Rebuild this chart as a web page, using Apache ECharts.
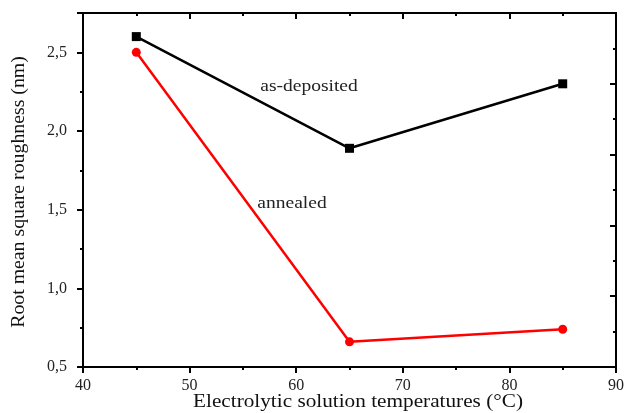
<!DOCTYPE html>
<html>
<head>
<meta charset="utf-8">
<script src="https://cdn.jsdelivr.net/npm/echarts@6/dist/echarts.min.js"></script>
<style>html,body{margin:0;padding:0;background:#fff;}#c{width:627px;height:413px;}</style>
</head>
<body>
<div id="c"></div>
<script>
const temperatures = [45, 65, 85];
const asDeposited = [2.60, 1.89, 2.30];
const annealed = [2.50, 0.66, 0.74];
const seriesNames = ['as-deposited', 'annealed'];
const xTitle = 'Electrolytic solution temperatures (°C)';
const yTitle = 'Root mean square roughness (nm)';

const FONT = 'Liberation Serif';
const chart = echarts.init(document.getElementById('c'));
const axisLine = {show: true, lineStyle: {color: '#000', width: 2}};
const toPairs = (xs, ys) => xs.map((x, i) => [x, ys[i]]);
const labelStyle = {fontFamily: FONT, fontSize: 16, color: '#222'};

chart.setOption({
  animation: false,
  backgroundColor: '#fff',
  grid: {left: 83, right: 11, top: 13, bottom: 46, outerBoundsMode: 'none', containLabel: false},
  xAxis: [{
    type: 'value', min: 40, max: 90, interval: 10, position: 'bottom',
    axisLine: axisLine,
    axisTick: {show: true, length: 6, lineStyle: {color: '#000', width: 2}},
    minorTick: {show: true, splitNumber: 2, length: 3, lineStyle: {color: '#000', width: 2}},
    axisLabel: Object.assign({margin: 11}, labelStyle),
    splitLine: {show: false}
  }, {
    type: 'value', min: 40, max: 90, interval: 10, position: 'top',
    axisLine: axisLine,
    axisTick: {show: true, inside: true, length: 6, lineStyle: {color: '#000', width: 2}},
    minorTick: {show: true, splitNumber: 2, length: 3, lineStyle: {color: '#000', width: 2}},
    axisLabel: {show: false}, splitLine: {show: false}
  }],
  yAxis: [{
    type: 'value', min: 0.5, max: 2.75, interval: 0.5, position: 'left',
    axisLine: axisLine,
    axisTick: {show: true, length: 6, lineStyle: {color: '#000', width: 2}},
    minorTick: {show: true, splitNumber: 2, length: 3, lineStyle: {color: '#000', width: 2}},
    axisLabel: Object.assign({margin: 16, showMaxLabel: false,
      formatter: v => v.toFixed(1).replace('.', ',')}, labelStyle),
    splitLine: {show: false}
  }, {
    type: 'value', min: 0, max: 5, interval: 1, position: 'right',
    axisLine: axisLine,
    axisTick: {show: true, inside: true, length: 6, lineStyle: {color: '#000', width: 2}},
    minorTick: {show: true, splitNumber: 2, length: 3, lineStyle: {color: '#000', width: 2}},
    axisLabel: {show: false}, splitLine: {show: false}
  }],
  series: [{
    name: seriesNames[0], type: 'line', xAxisIndex: 0, yAxisIndex: 0,
    data: toPairs(temperatures, asDeposited),
    symbol: 'rect', symbolSize: 9,
    lineStyle: {color: '#000', width: 2.5},
    itemStyle: {color: '#000'}
  }, {
    name: seriesNames[1], type: 'line', xAxisIndex: 0, yAxisIndex: 0,
    data: toPairs(temperatures, annealed),
    symbol: 'circle', symbolSize: 9,
    lineStyle: {color: '#ff0000', width: 2.5},
    itemStyle: {color: '#ff0000'}
  }],
  graphic: [
    {type: 'text', x: 358, y: 402, scaleX: 1.18,
      style: {text: xTitle, font: '18px ' + FONT, fill: '#111', align: 'center', verticalAlign: 'middle'}},
    {type: 'text', x: 19, y: 192, rotation: Math.PI / 2, scaleX: 1.1,
      style: {text: yTitle, font: '18px ' + FONT, fill: '#111', align: 'center', verticalAlign: 'middle'}},
    {type: 'text', x: 309, y: 87, scaleX: 1.22,
      style: {text: seriesNames[0], font: '16px ' + FONT, fill: '#222', align: 'center', verticalAlign: 'middle'}},
    {type: 'text', x: 292, y: 204, scaleX: 1.22,
      style: {text: seriesNames[1], font: '16px ' + FONT, fill: '#222', align: 'center', verticalAlign: 'middle'}}
  ]
});
</script>
</body>
</html>
